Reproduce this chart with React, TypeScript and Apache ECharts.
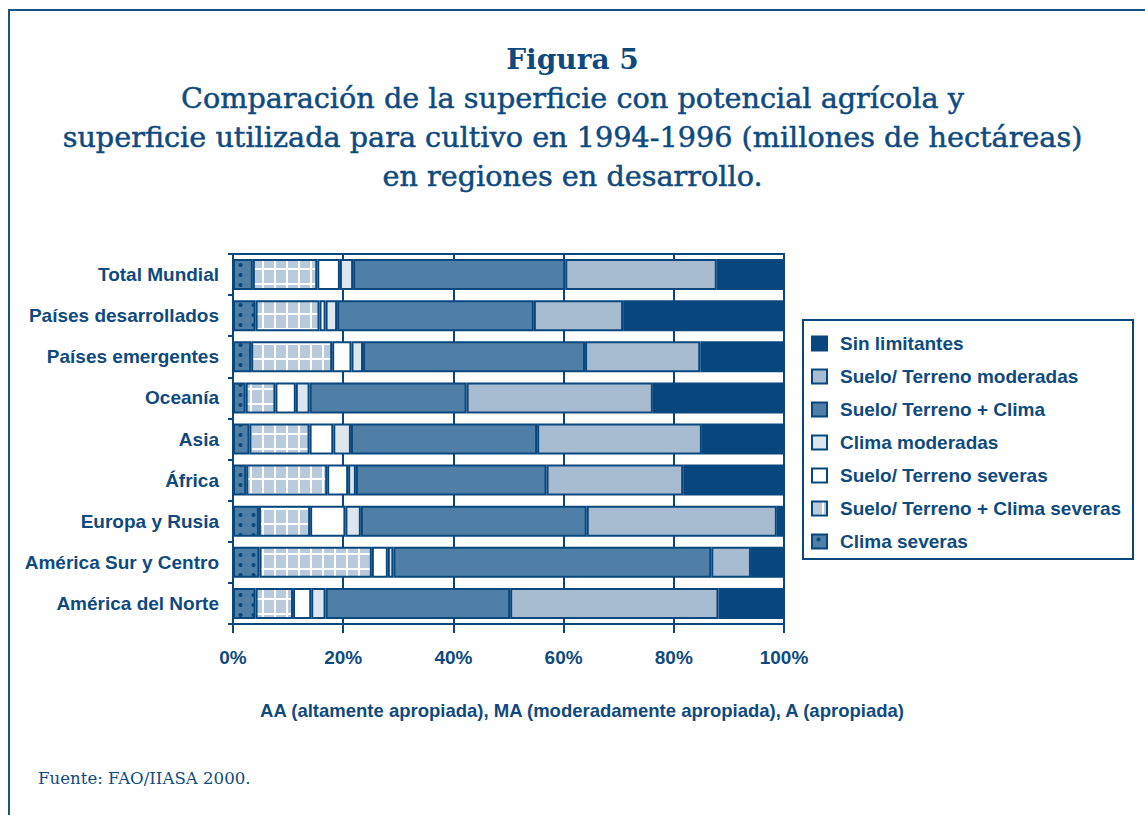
import React, { useEffect, useRef } from "react";
import * as echarts from "echarts";

const categories = [
  "Total Mundial",
  "Países desarrollados",
  "Países emergentes",
  "Oceanía",
  "Asia",
  "África",
  "Europa y Rusia",
  "América Sur y Centro",
  "América del Norte",
];

// percentages, stacked left to right
const climaSeveras = [3.6, 4.1, 3.3, 2.3, 3.0, 2.4, 4.7, 4.8, 4.1];
const sueloClimaSeveras = [11.7, 11.6, 14.7, 5.4, 10.9, 14.7, 9.3, 20.4, 6.8];
const sueloSeveras = [4.1, 1.1, 3.5, 3.7, 4.3, 3.8, 6.4, 2.9, 3.3];
const climaModeradas = [2.4, 2.1, 2.1, 2.5, 3.2, 1.4, 2.8, 1.0, 2.6];
const sueloClima = [38.5, 35.7, 40.3, 28.5, 33.8, 34.6, 41.0, 57.7, 33.5];
const sueloModeradas = [27.5, 16.2, 20.9, 33.8, 29.9, 24.8, 34.5, 7.2, 37.8];
const sinLimitantes = [12.2, 29.2, 15.2, 23.8, 14.9, 18.3, 1.3, 6.0, 11.9];

const legendOrder = [
  "Sin limitantes",
  "Suelo/ Terreno moderadas",
  "Suelo/ Terreno + Clima",
  "Clima moderadas",
  "Suelo/ Terreno severas",
  "Suelo/ Terreno + Clima severas",
  "Clima severas",
];

const xTicks = [0, 20, 40, 60, 80, 100];

const DARK = "#07477e";
const MID = "#4f7fa6";
const LIGHT = "#a7bcd1";
const PALE = "#dde6ee";
const GRIDFILL = "#b8cadb";
const TEXT = "#0f4a7e";
const FRAME = "#1a5185";
const SANS = "'Liberation Sans', Arial, Helvetica, sans-serif";
const SERIF = "'DejaVu Serif', 'Liberation Serif', serif";

function gridPattern() {
  const w = 12, h = 15;
  const c = document.createElement("canvas");
  c.width = w;
  c.height = h;
  const ctx = c.getContext("2d")!;
  ctx.fillStyle = "#ffffff";
  ctx.fillRect(0, 0, w, h);
  ctx.fillStyle = GRIDFILL;
  ctx.fillRect(0, 0, 10, 13);
  return { image: c, repeat: "repeat", imageWidth: w, imageHeight: h };
}

function dotPattern() {
  const w = 13, h = 10;
  const c = document.createElement("canvas");
  c.width = w;
  c.height = h;
  const ctx = c.getContext("2d")!;
  ctx.fillStyle = MID;
  ctx.fillRect(0, 0, w, h);
  ctx.fillStyle = DARK;
  ctx.beginPath();
  ctx.arc(6.5, 5, 2.1, 0, Math.PI * 2);
  ctx.fill();
  return { image: c, repeat: "repeat", imageWidth: w, imageHeight: h };
}

export default function App() {
  const ref = useRef<HTMLDivElement>(null);

  useEffect(() => {
    document.body.style.margin = "0";
    const chart = echarts.init(ref.current!, null, { renderer: "svg" });

    const mk = (name: string, data: number[], itemStyle: any) => ({
      name,
      type: "bar",
      stack: "total",
      data,
      barWidth: 31,
      itemStyle: { borderColor: DARK, borderWidth: 2, ...itemStyle },
      emphasis: { disabled: true },
    });

    const series = [
      mk("Clima severas", climaSeveras, { color: dotPattern() }),
      mk("Suelo/ Terreno + Clima severas", sueloClimaSeveras, { color: gridPattern() }),
      mk("Suelo/ Terreno severas", sueloSeveras, { color: "#ffffff" }),
      mk("Clima moderadas", climaModeradas, { color: PALE }),
      mk("Suelo/ Terreno + Clima", sueloClima, { color: MID }),
      mk("Suelo/ Terreno moderadas", sueloModeradas, { color: LIGHT }),
      mk("Sin limitantes", sinLimitantes, { color: DARK }),
    ];

    chart.setOption({
      animation: false,
      backgroundColor: "#ffffff",
      title: {
        text: "Figura 5",
        subtext:
          "Comparación de la superficie con potencial agrícola y\nsuperficie utilizada para cultivo en 1994-1996 (millones de hectáreas)\nen regiones en desarrollo.",
        left: "center",
        top: 41,
        padding: 0,
        itemGap: 1,
        textStyle: {
          fontFamily: SERIF,
          fontWeight: "bold",
          fontSize: 28,
          lineHeight: 36,
          color: TEXT,
        },
        subtextStyle: {
          fontFamily: SERIF,
          fontWeight: "normal",
          fontSize: 28.7,
          lineHeight: 39,
          color: TEXT,
          textBorderColor: TEXT,
          textBorderWidth: 0.5,
        },
      },
      legend: {
        orient: "vertical",
        left: 811,
        top: 334,
        padding: 0,
        itemWidth: 15,
        itemHeight: 14,
        itemGap: 14,
        icon: "rect",
        data: legendOrder,
        selectedMode: false,
        itemStyle: { borderColor: DARK, borderWidth: 2 },
        textStyle: {
          fontFamily: SANS,
          fontWeight: "bold",
          fontSize: 19,
          lineHeight: 19,
          color: TEXT,
          padding: [0, 0, 0, 8],
        },
      },
      grid: {
        left: 233,
        right: 361,
        top: 254,
        bottom: 191,
        show: true,
        borderColor: DARK,
        borderWidth: 2,
        backgroundColor: "#ffffff",
      },
      xAxis: {
        type: "value",
        min: xTicks[0],
        max: xTicks[xTicks.length - 1],
        interval: 20,
        axisLine: { show: true, lineStyle: { color: DARK, width: 2 } },
        axisTick: { show: true, length: 9, lineStyle: { color: DARK, width: 2 } },
        splitLine: { show: true, lineStyle: { color: DARK, width: 2 } },
        axisLabel: {
          formatter: "{value}%",
          margin: 24,
          fontFamily: SANS,
          fontWeight: "bold",
          fontSize: 19,
          color: TEXT,
        },
      },
      yAxis: {
        type: "category",
        data: categories,
        inverse: true,
        axisLine: { show: true, lineStyle: { color: DARK, width: 2 } },
        axisTick: { show: true, length: 5, lineStyle: { color: DARK, width: 2 } },
        axisLabel: {
          margin: 14,
          fontFamily: SANS,
          fontWeight: "bold",
          fontSize: 19,
          color: TEXT,
        },
      },
      graphic: [
        {
          type: "line",
          shape: { x1: 8, y1: 10, x2: 1145, y2: 10 },
          style: { stroke: FRAME, lineWidth: 2 },
          silent: true,
        },
        {
          type: "line",
          shape: { x1: 9, y1: 9, x2: 9, y2: 815 },
          style: { stroke: FRAME, lineWidth: 2 },
          silent: true,
        },
        {
          type: "rect",
          shape: { x: 803, y: 320, width: 330, height: 239 },
          style: { fill: "none", stroke: DARK, lineWidth: 2 },
          silent: true,
          z: 0,
        },
        {
          type: "text",
          x: 582,
          y: 710,
          style: {
            text: "AA (altamente apropiada), MA (moderadamente apropiada), A (apropiada)",
            fontFamily: SANS,
            fontWeight: "bold",
            fontSize: 18.5,
            fill: TEXT,
            align: "center",
            verticalAlign: "middle",
          },
          silent: true,
        },
        {
          type: "text",
          left: 38,
          top: 770,
          style: {
            text: "Fuente: FAO/IIASA 2000.",
            fontFamily: SERIF,
            fontSize: 16.6,
            fill: TEXT,
          },
          silent: true,
        },
      ],
      series,
    });

    return () => chart.dispose();
  }, []);

  return <div ref={ref} style={{ width: 1145, height: 815 }} />;
}
